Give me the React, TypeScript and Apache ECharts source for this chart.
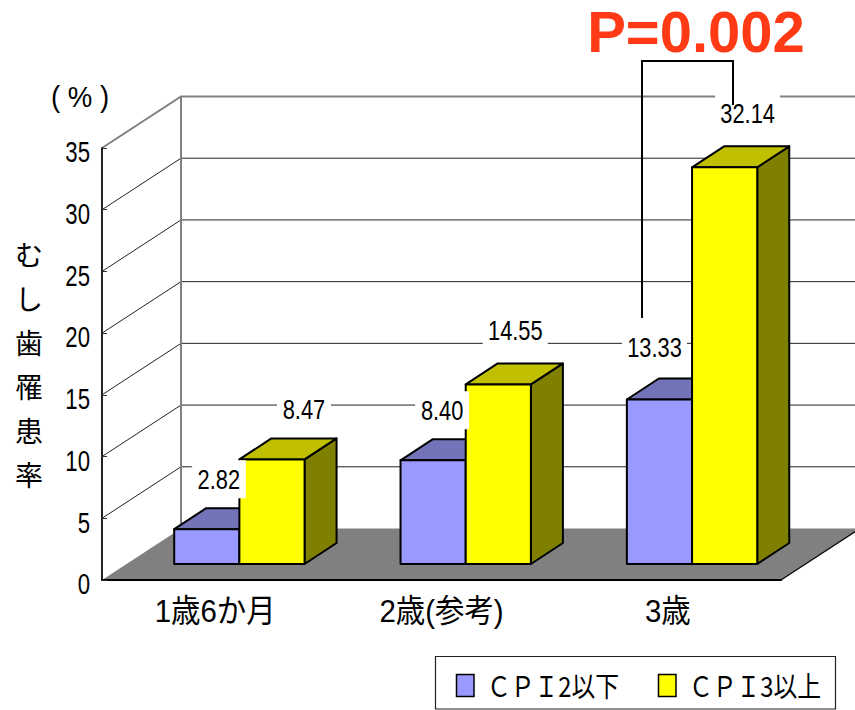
import React, { useEffect, useRef } from "react";
import * as echarts from "echarts";

const categories = ["1歳6か月", "2歳(参考)", "3歳"];
const cpiLowName = "ＣＰＩ2以下";
const cpiHighName = "ＣＰＩ3以上";
const cpiLow = [2.82, 8.4, 13.33];
const cpiHigh = [8.47, 14.55, 32.14];
const yTicks = [0, 5, 10, 15, 20, 25, 30, 35];
const yTitle = "むし歯罹患率";
const unitLabel = "( % )";
const pLabel = "P=0.002";

const LATIN = '"Liberation Sans", "Noto Sans CJK JP", sans-serif';
const CJK = '"Noto Sans CJK JP", sans-serif';
const BLUE = "#9999FF";
const YELLOW = "#FFFF00";
const WALL_DX = 79;
const WALL_DY = 51.5;
const BAR_DX = 32;
const BAR_DY = 21;
const BAR_LIFT = 16;
const GROUP_SHIFT = 0.107;
const BAR_BAND = 0.288;
// hand placed label offsets from the bar's top centre, as in the original
const lowNudge = [[12, -50], [9, -50], [-5, -53]];
const highNudge = [[32, -50], [17, -54], [23, -54]];

function barBox(api: any, side: number) {
  const cat = api.value(0);
  const val = api.value(1);
  const band = api.size([1, 0])[0];
  const w = band * BAR_BAND;
  const centre = api.coord([cat, 0])[0] + band * GROUP_SHIFT;
  const x0 = side === 0 ? centre - w : centre;
  const yb = api.coord([cat, 0])[1] - BAR_LIFT;
  const yt = api.coord([cat, val])[1] - BAR_LIFT;
  return { x0, x1: x0 + w, yb, yt };
}

function barRenderer(side: number, front: string, top: string, right: string) {
  return (params: any, api: any) => {
    const { x0, x1, yb, yt } = barBox(api, side);
    const line = { stroke: "#000", lineWidth: 2, lineJoin: "round" };
    return {
      type: "group",
      children: [
        { type: "polygon", shape: { points: [[x1, yb], [x1 + BAR_DX, yb - BAR_DY], [x1 + BAR_DX, yt - BAR_DY], [x1, yt]] }, style: { fill: right, ...line } },
        { type: "polygon", shape: { points: [[x0, yt], [x0 + BAR_DX, yt - BAR_DY], [x1 + BAR_DX, yt - BAR_DY], [x1, yt]] }, style: { fill: top, ...line } },
        { type: "rect", shape: { x: x0, y: yt, width: x1 - x0, height: yb - yt }, style: { fill: front, ...line } },
      ],
    };
  };
}

function wallRenderer(params: any, api: any) {
  const v = api.value(1);
  const sys = params.coordSys;
  const [, y] = api.coord([0, v]);
  const x = sys.x;
  const right = sys.x + sys.width;
  const isTop = v === yTicks[yTicks.length - 1];
  const stroke = isTop ? "#808080" : "#222";
  const lineWidth = isTop ? 2 : 1;
  const children: any[] = [];
  if (v === 0) {
    children.push({
      type: "polygon",
      shape: { points: [[x, y], [x + WALL_DX, y - WALL_DY], [right + WALL_DX, y - WALL_DY], [right, y]] },
      style: { fill: "#808080" },
    });
    children.push({
      type: "line",
      shape: { x1: right, y1: y, x2: right + WALL_DX, y2: y - WALL_DY },
      style: { stroke: "#000", lineWidth: 1.2 },
    });
  } else {
    children.push({
      type: "polyline",
      shape: { points: [[x, y], [x + WALL_DX, y - WALL_DY], [right + WALL_DX, y - WALL_DY]] },
      style: { fill: "none", stroke, lineWidth },
    });
  }
  if (isTop) {
    const [, y0] = api.coord([0, 0]);
    children.push({
      type: "line",
      shape: { x1: x + WALL_DX, y1: y - WALL_DY, x2: x + WALL_DX, y2: y0 - WALL_DY },
      style: { stroke: "#808080", lineWidth: 2 },
    });
  }
  return { type: "group", children };
}

function labelRenderer(params: any, api: any) {
  const side = api.value(2);
  const { x0, x1, yt } = barBox(api, side);
  const nudge = (side === 0 ? lowNudge : highNudge)[api.value(0)];
  const cx = (x0 + x1) / 2 + nudge[0];
  const cy = yt + nudge[1];
  const text = api.value(1).toFixed(2);
  const w = text.length === 4 ? 54 : 65;
  return {
    type: "group",
    children: [
      { type: "rect", shape: { x: cx - w / 2, y: cy - 19, width: w, height: 38 }, style: { fill: "#fff" } },
      {
        type: "text",
        x: cx,
        y: cy,
        scaleX: 0.78,
        style: { text, fontSize: 28, fontFamily: LATIN, fill: "#000", align: "center", verticalAlign: "middle" },
      },
    ],
  };
}

function yTickRenderer(params: any, api: any) {
  const v = api.value(1);
  const [, y] = api.coord([0, v]);
  return {
    type: "text",
    x: params.coordSys.x - 12,
    y: y + 4,
    scaleX: 0.74,
    style: { text: String(v), fontSize: 30, fontFamily: LATIN, fill: "#000", align: "right", verticalAlign: "middle" },
  };
}

function catLabelRenderer(params: any, api: any) {
  const i = api.value(0);
  const [x, y] = api.coord([i, 0]);
  return {
    type: "text",
    x,
    y: y + 31,
    scaleX: 0.92,
    style: { text: categories[i], fontSize: 32, fontFamily: LATIN, fill: "#000", align: "center", verticalAlign: "middle" },
  };
}

function legendEntry(swatchX: number, textX: number, color: string, text: string) {
  return [
    { type: "rect", z: 20, shape: { x: swatchX, y: 674.5, width: 17.5, height: 22 }, style: { fill: color, stroke: "#000", lineWidth: 1.5 } },
    {
      type: "text",
      z: 20,
      x: textX,
      y: 685,
      scaleX: 0.85,
      style: { text, fontSize: 28, fontFamily: CJK, fill: "#000", align: "left", verticalAlign: "middle" },
    },
  ];
}

export default function App() {
  const ref = useRef<HTMLDivElement>(null);
  useEffect(() => {
    const chart = echarts.init(ref.current!, undefined, { renderer: "svg" });
    const labelData = [
      ...cpiLow.map((v, i) => [i, v, 0]),
      ...cpiHigh.map((v, i) => [i, v, 1]),
    ];
    const common = { type: "custom", coordinateSystem: "cartesian2d", encode: { x: 0, y: 1 } };
    chart.setOption({
      animation: false,
      backgroundColor: "#fff",
      grid: { left: 102, top: 148, width: 679, height: 432, containLabel: false, outerBoundsMode: "none" },
      xAxis: {
        type: "category",
        data: categories,
        z: 3,
        axisLine: { lineStyle: { color: "#000", width: 2 } },
        axisTick: { inside: true, length: 7, lineStyle: { color: "#333", width: 1 } },
        axisLabel: { show: false },
        splitLine: { show: false },
      },
      yAxis: {
        type: "value",
        min: 0,
        max: 35,
        interval: 5,
        z: 3,
        axisLine: { show: true, lineStyle: { color: "#222", width: 2 } },
        axisTick: { show: true, inside: true, length: 5, lineStyle: { color: "#333", width: 1 } },
        axisLabel: { show: false },
        splitLine: { show: false },
        name: yTitle.split("").join("\n"),
        nameLocation: "middle",
        nameRotate: 0,
        nameGap: 59,
        nameTextStyle: { fontSize: 28, lineHeight: 44, fontFamily: CJK, color: "#000", padding: [0, 0, 32, 0] },
      },
      series: [
        { ...common, name: "walls", z: 1, silent: true, data: yTicks.map((t) => [0, t]), renderItem: wallRenderer },
        { ...common, name: "yTicks", z: 3, silent: true, data: yTicks.map((t) => [0, t]), renderItem: yTickRenderer },
        { ...common, name: "categories", z: 3, silent: true, data: categories.map((_, i) => [i, 0]), renderItem: catLabelRenderer },
        { ...common, name: cpiLowName, z: 4, data: cpiLow.map((v, i) => [i, v]), renderItem: barRenderer(0, BLUE, "#7373B9", "#4D4D80") },
        { ...common, name: cpiHighName, z: 5, data: cpiHigh.map((v, i) => [i, v]), renderItem: barRenderer(1, YELLOW, "#C0C000", "#808000") },
        { ...common, name: "labels", z: 6, silent: true, data: labelData, renderItem: labelRenderer },
      ],
      graphic: [
        {
          type: "polyline",
          z: 20,
          shape: { points: [[642, 318], [642, 61], [733, 61], [733, 105]] },
          style: { fill: "none", stroke: "#000", lineWidth: 2 },
        },
        {
          type: "text",
          z: 20,
          x: 696,
          y: 31,
          style: {
            text: pLabel,
            fontSize: 58,
            fontWeight: "bold",
            fontFamily: '"Liberation Sans", sans-serif',
            fill: "#FF3A14",
            align: "center",
            verticalAlign: "middle",
          },
        },
        {
          type: "text",
          z: 20,
          x: 80,
          y: 97,
          scaleX: 0.92,
          style: {
            text: unitLabel,
            fontSize: 30,
            fontFamily: '"Liberation Sans", sans-serif',
            fill: "#000",
            align: "center",
            verticalAlign: "middle",
          },
        },
        {
          type: "rect",
          z: 19,
          shape: { x: 435.5, y: 656.5, width: 400, height: 52.5 },
          style: { fill: "#fff", stroke: "#222", lineWidth: 1.2 },
        },
        ...legendEntry(456.5, 487, BLUE, cpiLowName),
        ...legendEntry(658.5, 689, YELLOW, cpiHighName),
      ],
    });
    return () => chart.dispose();
  }, []);
  return <div ref={ref} style={{ position: "fixed", left: 0, top: 0, width: 855, height: 710 }} />;
}
